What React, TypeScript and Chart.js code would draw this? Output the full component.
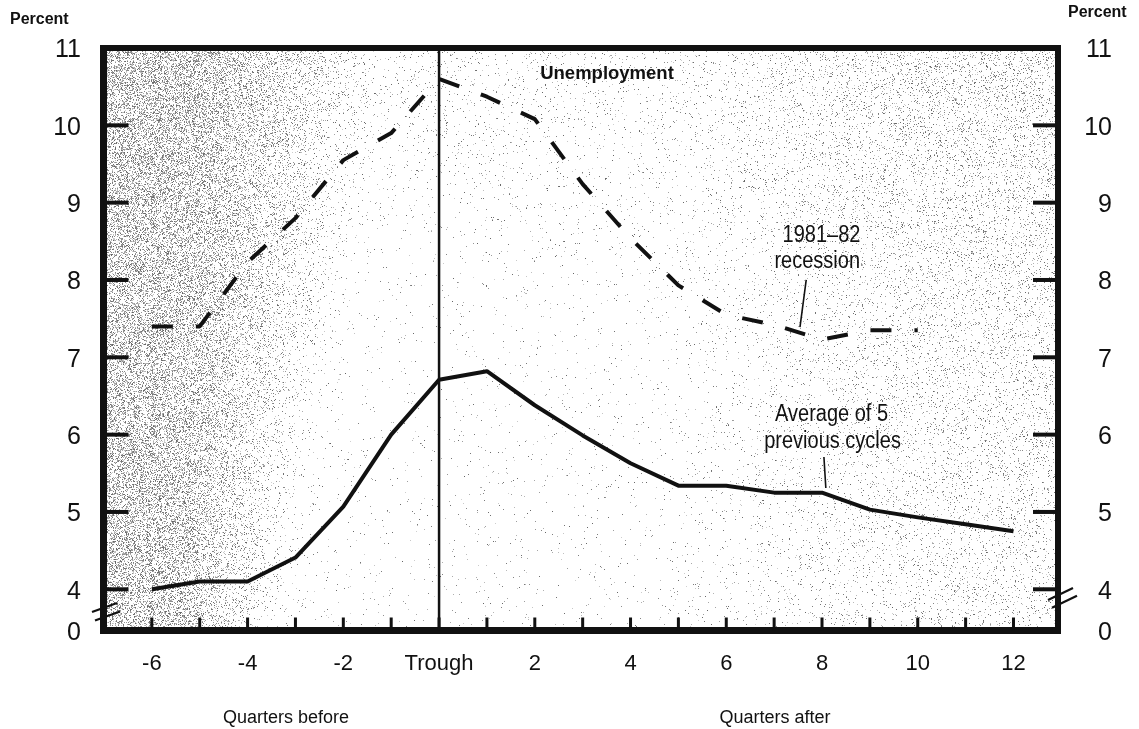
import React, { useEffect, useRef } from 'react';
import { Chart, registerables } from 'chart.js';

Chart.register(...registerables);

// ---------- data ----------
const quarters = [-6, -5, -4, -3, -2, -1, 0, 1, 2, 3, 4, 5, 6, 7, 8, 9, 10, 11, 12];
const recession1981Quarters = [-6, -5, -4, -3, -2, -1, 0, 1, 2, 3, 4, 5, 6, 7, 8, 9, 10];
const recession1981 = [7.4, 7.4, 8.23, 8.8, 9.55, 9.9, 10.6, 10.37, 10.08, 9.24, 8.54, 7.93, 7.55, 7.42, 7.23, 7.35, 7.35];
const avgPrevious5 = [4.0, 4.1, 4.1, 4.41, 5.07, 6.0, 6.71, 6.82, 6.38, 5.99, 5.63, 5.34, 5.34, 5.25, 5.25, 5.03, 4.93, 4.84, 4.75];
const xTickValues = [-6, -4, -2, 0, 2, 4, 6, 8, 10, 12];
const xTickLabels = ['-6', '-4', '-2', 'Trough', '2', '4', '6', '8', '10', '12'];
const yTickValues = [4, 5, 6, 7, 8, 9, 10, 11];
const yBreakLabel = '0';

const X_MIN = -7.01;
const X_MAX = 12.93;
const Y_MIN = 3.467;
const Y_MAX = 11;

const FONT = '"Liberation Sans", Arial, Helvetica, sans-serif';
const INK = '#111111';

function hash(x: number, y: number) {
  let h = (x * 374761393 + y * 668265263) | 0;
  h = Math.imul(h ^ (h >>> 13), 1274126177);
  h = h ^ (h >>> 16);
  return (h >>> 0) / 4294967295;
}

function smooth(e0: number, e1: number, v: number) {
  const t = Math.min(1, Math.max(0, (v - e0) / (e1 - e0)));
  return t * t * (3 - 2 * t);
}

function density(x: number, y: number) {
  let d = 0.01;
  const w = 300 - 0.18 * (y - 48);
  const t = (x - 100) / w;
  d += 0.36 * (1 - smooth(0.2, 1, t));
  const r = smooth(620, 1000, x);
  d += 0.09 * r * (1 - 0.4 * (y - 48) / 580);
  const top = Math.max(0, 1 - (y - 48) / 220);
  d += 0.03 * top;
  return d;
}

let stippleCache: { key: string; canvas: HTMLCanvasElement } | null = null;

const stipplePlugin = {
  id: 'stipple',
  beforeDatasetsDraw(chart: any) {
    const { ctx, chartArea } = chart;
    const x0 = Math.floor(chartArea.left);
    const y0 = Math.floor(chartArea.top);
    const w = Math.ceil(chartArea.right - chartArea.left);
    const h = Math.ceil(chartArea.bottom - chartArea.top);
    const key = `${x0},${y0},${w},${h}`;
    if (!stippleCache || stippleCache.key !== key) {
      const c = document.createElement('canvas');
      c.width = w;
      c.height = h;
      const cctx = c.getContext('2d')!;
      const img = cctx.createImageData(w, h);
      const data = img.data;
      for (let j = 0; j < h; j++) {
        for (let i = 0; i < w; i++) {
          const px = x0 + i;
          const py = y0 + j;
          const d = density(px, py);
          const k = (j * w + i) * 4;
          let v = 255;
          if (hash(px, py) < d) {
            v = 100 + Math.floor(hash(py + 7, px + 3) * 110);
          }
          data[k] = v;
          data[k + 1] = v;
          data[k + 2] = v;
          data[k + 3] = 255;
        }
      }
      cctx.putImageData(img, 0, 0);
      stippleCache = { key, canvas: c };
    }
    ctx.drawImage(stippleCache.canvas, x0, y0);
  },
};

function scaledText(ctx: CanvasRenderingContext2D, text: string, cx: number, baseline: number, font: string, sy: number) {
  ctx.save();
  ctx.font = font;
  ctx.textAlign = 'center';
  ctx.textBaseline = 'alphabetic';
  ctx.translate(cx, baseline);
  ctx.scale(1, sy);
  ctx.fillText(text, 0, 0);
  ctx.restore();
}

const decorPlugin = {
  id: 'decor',
  afterDatasetsDraw(chart: any) {
    const { ctx, chartArea } = chart;
    const xs = chart.scales.x;
    const ys = chart.scales.y;
    const { left, right, top, bottom } = chartArea;
    ctx.save();
    ctx.fillStyle = INK;
    ctx.strokeStyle = INK;

    // trough line
    const px0 = xs.getPixelForValue(0);
    ctx.lineWidth = 2.5;
    ctx.beginPath();
    ctx.moveTo(px0, top);
    ctx.lineTo(px0, bottom);
    ctx.stroke();

    // frame
    ctx.fillRect(left - 3.5, top - 3, 7, bottom - top + 6.5);
    ctx.fillRect(left - 3.5, top - 3, right - left + 6.5, 6);
    ctx.fillRect(right - 3, top - 3, 6, bottom - top + 6.5);
    ctx.fillRect(left - 3.5, bottom - 3.5, right - left + 6.5, 7);

    // y ticks (inside)
    yTickValues.forEach((v) => {
      if (v >= Y_MAX) return;
      const py = ys.getPixelForValue(v);
      ctx.fillRect(left, py - 2, 25, 4);
      ctx.fillRect(right - 25, py - 2, 25, 4);
    });

    // x ticks (inside)
    quarters.forEach((q) => {
      const px = xs.getPixelForValue(q);
      ctx.fillRect(px - 1.5, bottom - 13, 3, 13);
    });

    // axis break marks
    ctx.lineWidth = 2.2;
    const brk = (cx: number, cy: number, dx: number, dy: number) => {
      ctx.beginPath();
      ctx.moveTo(cx - dx, cy + dy);
      ctx.lineTo(cx + dx, cy - dy);
      ctx.stroke();
    };
    brk(left + 1, ys.getPixelForValue(3.765), 12.5, 4.5);
    brk(left + 4, ys.getPixelForValue(3.655), 12.5, 4.5);
    brk(right + 2.5, ys.getPixelForValue(3.94), 12.5, 6);
    brk(right + 6.5, ys.getPixelForValue(3.84), 12.5, 6);

    // title
    ctx.font = `bold 18.5px ${FONT}`;
    ctx.textAlign = 'center';
    ctx.textBaseline = 'alphabetic';
    ctx.fillText('Unemployment', 607, 79);

    // Percent labels
    ctx.font = `bold 16px ${FONT}`;
    ctx.textAlign = 'left';
    ctx.fillText('Percent', 10, 24);
    ctx.fillText('Percent', 1068, 17);

    // annotations
    const af = `20px ${FONT}`;
    scaledText(ctx, '1981\u201382', xs.getPixelForValue(7.99), 242, af, 1.15);
    scaledText(ctx, 'recession', xs.getPixelForValue(7.9), 268, af, 1.15);
    scaledText(ctx, 'Average of 5', xs.getPixelForValue(8.2), 421, af, 1.15);
    scaledText(ctx, 'previous cycles', xs.getPixelForValue(8.22), 448, af, 1.15);

    ctx.lineWidth = 1.6;
    ctx.beginPath();
    ctx.moveTo(xs.getPixelForValue(7.67), ys.getPixelForValue(8.0));
    ctx.lineTo(xs.getPixelForValue(7.54), ys.getPixelForValue(7.39));
    ctx.moveTo(xs.getPixelForValue(8.04), ys.getPixelForValue(5.71));
    ctx.lineTo(xs.getPixelForValue(8.08), ys.getPixelForValue(5.31));
    ctx.stroke();

    // quarters before/after
    ctx.font = `18px ${FONT}`;
    ctx.textAlign = 'center';
    ctx.fillText('Quarters before', 286, 723);
    ctx.fillText('Quarters after', 775, 723);

    ctx.restore();
  },
};

export default function App() {
  const ref = useRef<HTMLCanvasElement | null>(null);

  useEffect(() => {
    if (!ref.current) return;
    const yAxisCommon = {
      type: 'linear' as const,
      min: Y_MIN,
      max: Y_MAX,
      grid: { display: false, drawTicks: false },
      border: { display: false },
      afterBuildTicks: (s: any) => {
        s.ticks = [{ value: Y_MIN }, ...yTickValues.map((v) => ({ value: v }))];
      },
    };
    const chart = new Chart(ref.current, {
      type: 'line',
      data: {
        datasets: [
          {
            label: '1981-82 recession',
            data: recession1981Quarters.map((q, i) => ({ x: q, y: recession1981[i] })),
            borderColor: INK,
            borderWidth: 4,
            borderDash: [21, 23],
            borderCapStyle: 'butt',
            borderJoinStyle: 'round',
            pointRadius: 0,
            tension: 0,
            fill: false,
          },
          {
            label: 'Average of 5 previous cycles',
            data: quarters.map((q, i) => ({ x: q, y: avgPrevious5[i] })),
            borderColor: INK,
            borderWidth: 4,
            borderJoinStyle: 'round',
            pointRadius: 0,
            tension: 0,
            fill: false,
          },
        ],
      },
      options: {
        animation: false,
        responsive: false,
        devicePixelRatio: 1,
        layout: { padding: { top: 48, right: 27, left: 0, bottom: 0 } },
        plugins: {
          legend: { display: false },
          tooltip: { enabled: false },
          title: { display: false },
        },
        scales: {
          x: {
            type: 'linear',
            min: X_MIN,
            max: X_MAX,
            grid: { display: false, drawTicks: false },
            border: { display: false },
            afterBuildTicks: (s: any) => {
              s.ticks = xTickValues.map((v) => ({ value: v }));
            },
            afterFit: (s: any) => {
              s.height = 98.5;
            },
            ticks: {
              autoSkip: false,
              maxRotation: 0,
              padding: 20,
              color: INK,
              font: { family: FONT, size: 22 },
              callback: (v: any) => {
                const i = xTickValues.indexOf(Number(v));
                return i >= 0 ? xTickLabels[i] : '';
              },
            },
          },
          y: {
            ...yAxisCommon,
            position: 'left',
            afterFit: (s: any) => {
              s.width = 103.5;
            },
            ticks: {
              autoSkip: false,
              padding: 22.5,
              labelOffset: 2.5,
              color: INK,
              font: { family: FONT, size: 25 },
              callback: (v: any) => (Number(v) < 3.9 ? yBreakLabel : String(v)),
            },
          },
          y2: {
            ...yAxisCommon,
            position: 'right',
            afterFit: (s: any) => {
              s.width = 54;
            },
            ticks: {
              autoSkip: false,
              padding: 10,
              labelOffset: 2.5,
              crossAlign: 'far',
              color: INK,
              font: { family: FONT, size: 25 },
              callback: (v: any) => (Number(v) < 3.9 ? yBreakLabel : String(v)),
            },
          },
        },
      } as any,
      plugins: [stipplePlugin, decorPlugin],
    });
    return () => chart.destroy();
  }, []);

  return (
    <div style={{ position: 'fixed', left: 0, top: 0, width: 1139, height: 729, background: '#fff' }}>
      <canvas ref={ref} width={1139} height={729} style={{ display: 'block', width: 1139, height: 729 }} />
    </div>
  );
}
